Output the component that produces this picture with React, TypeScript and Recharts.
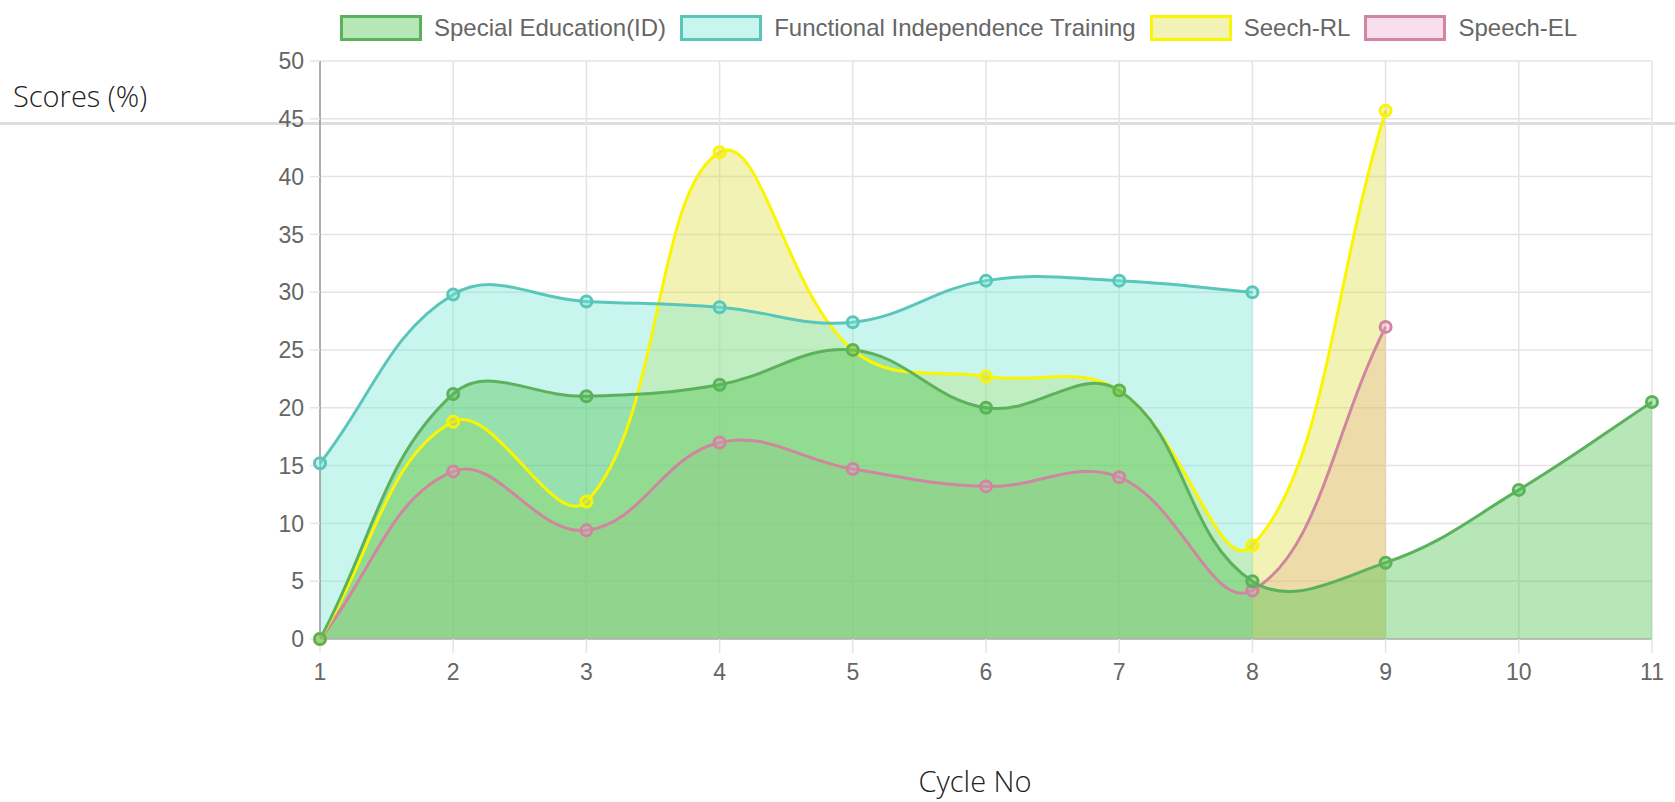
import { ComposedChart, Area, Line, XAxis, YAxis, CartesianGrid } from "recharts"

const cycles = [1, 2, 3, 4, 5, 6, 7, 8, 9, 10, 11]
const specialEd = [0, 21.2, 21.0, 22.0, 25.0, 20.0, 21.5, 5.0, 6.6, 12.9, 20.5]
const independence = [15.2, 29.8, 29.2, 28.7, 27.4, 31.0, 31.0, 30.0, null, null, null]
const speechRL = [0, 18.8, 11.9, 42.1, 25.0, 22.7, 21.5, 8.1, 45.7, null, null]
const speechEL = [0, 14.5, 9.4, 17.0, 14.7, 13.2, 14.0, 4.2, 27.0, null, null]
const yTicks = [0, 5, 10, 15, 20, 25, 30, 35, 40, 45, 50]

const SERIES = [
  { key: "specialEd", name: "Special Education(ID)", stroke: "rgb(92,178,92)", fill: "rgba(76,195,76,0.4)" },
  { key: "independence", name: "Functional Independence Training", stroke: "rgb(90,198,186)", fill: "rgba(120,230,215,0.4)" },
  { key: "speechRL", name: "Seech-RL", stroke: "rgb(250,245,0)", fill: "rgba(218,218,50,0.36)" },
  { key: "speechEL", name: "Speech-EL", stroke: "rgb(208,134,160)", fill: "rgba(232,150,200,0.32)" },
]

const rows = cycles.map((c, i) => ({
  cycle: c,
  specialEd: specialEd[i],
  independence: independence[i],
  speechRL: speechRL[i],
  speechEL: speechEL[i],
}))

// chart.js style spline (tension 0.4)
function splineCurve(context: any) {
  let pts: number[][] = []
  let line = NaN
  const t = 0.4
  return {
    areaStart() { line = 0 },
    areaEnd() { line = NaN },
    lineStart() { pts = [] },
    point(x: number, y: number) { pts.push([+x, +y]) },
    lineEnd() {
      const n = pts.length
      if (n) {
        if (line) context.lineTo(pts[0][0], pts[0][1])
        else context.moveTo(pts[0][0], pts[0][1])
        const cps = pts.map((cur, i) => {
          const prev = pts[i - 1] || cur
          const next = pts[i + 1] || cur
          const d01 = Math.hypot(cur[0] - prev[0], cur[1] - prev[1])
          const d12 = Math.hypot(next[0] - cur[0], next[1] - cur[1])
          let s01 = d01 / (d01 + d12)
          let s12 = d12 / (d01 + d12)
          if (isNaN(s01)) s01 = 0
          if (isNaN(s12)) s12 = 0
          const fa = t * s01
          const fb = t * s12
          return {
            p: [cur[0] - fa * (next[0] - prev[0]), cur[1] - fa * (next[1] - prev[1])],
            n: [cur[0] + fb * (next[0] - prev[0]), cur[1] + fb * (next[1] - prev[1])],
          }
        })
        for (let i = 0; i < n - 1; i++) {
          const a = cps[i].n
          const b = cps[i + 1].p
          context.bezierCurveTo(a[0], a[1], b[0], b[1], pts[i + 1][0], pts[i + 1][1])
        }
      }
      if (line || (line !== 0 && n === 1)) context.closePath()
      line = 1 - line
    },
  }
}

const tickStyle = { fontFamily: "'Liberation Sans', Arial, sans-serif", fontSize: 23, fill: "#666" }

export default function App() {
  // fills first, lines on top (like chart.js 2)
  const drawOrder = [...SERIES].reverse()
  return (
    <div style={{ position: "absolute", left: 0, top: 0, width: 1675, height: 802, background: "#fff", overflow: "hidden" }}>
      <div style={{ position: "absolute", left: 0, top: 122, width: 1675, height: 3, background: "#dedede" }} />
      <div
        style={{
          position: "absolute",
          left: 340,
          top: 14,
          display: "flex",
          alignItems: "center",
          fontFamily: "'Liberation Sans', Arial, sans-serif",
          fontSize: 24,
          color: "#666",
          whiteSpace: "nowrap",
        }}
      >
        {SERIES.map((s) => (
          <div key={s.key} style={{ display: "flex", alignItems: "center", marginRight: 14 }}>
            <div
              style={{
                width: 82,
                height: 26,
                boxSizing: "border-box",
                border: `3px solid ${s.stroke}`,
                background: s.fill,
                marginRight: 12,
              }}
            />
            <span>{s.name}</span>
          </div>
        ))}
      </div>
      <div
        style={{
          position: "absolute",
          left: 13,
          top: 77,
          fontFamily: "'Open Sans', sans-serif",
          fontWeight: 300,
          fontSize: 29,
          lineHeight: "38px",
          color: "#222",
        }}
      >
        Scores (%)
      </div>
      <div
        style={{
          position: "absolute",
          left: 975,
          top: 762,
          transform: "translateX(-50%)",
          fontFamily: "'Open Sans', sans-serif",
          fontWeight: 300,
          fontSize: 29,
          lineHeight: "38px",
          color: "#222",
          whiteSpace: "nowrap",
        }}
      >
        Cycle No
      </div>
      <div style={{ position: "absolute", left: 0, top: 0 }}>
        <ComposedChart width={1675} height={802} data={rows} margin={{ top: 61, right: 23, bottom: 123, left: 260 }}>
          <CartesianGrid stroke="#e4e4e4" strokeWidth={1.5} />
          <XAxis
            dataKey="cycle"
            type="number"
            domain={[1, 11]}
            ticks={cycles}
            height={40}
            tick={tickStyle}
            tickSize={14}
            tickMargin={11}
            tickLine={{ stroke: "#e4e4e4", strokeWidth: 1.5 }}
            axisLine={{ stroke: "#b0b0b0", strokeWidth: 1.5 }}
          />
          <YAxis
            type="number"
            domain={[0, 50]}
            ticks={yTicks}
            width={60}
            tick={tickStyle}
            tickSize={10}
            tickMargin={6}
            tickLine={{ stroke: "#e4e4e4", strokeWidth: 1.5 }}
            axisLine={{ stroke: "#999", strokeWidth: 1.5 }}
          />
          {drawOrder.map((s) => (
            <Area
              key={s.key + "-fill"}
              dataKey={s.key}
              name={s.name}
              type={splineCurve as any}
              stroke="none"
              fill={s.fill}
              fillOpacity={1}
              dot={false}
              activeDot={false}
              legendType="none"
              isAnimationActive={false}
            />
          ))}
          {drawOrder.map((s) => (
            <Line
              key={s.key + "-line"}
              dataKey={s.key}
              name={s.name}
              type={splineCurve as any}
              stroke={s.stroke}
              strokeWidth={3}
              dot={{ r: 5.5, stroke: s.stroke, strokeWidth: 3, fill: s.fill }}
              activeDot={false}
              isAnimationActive={false}
            />
          ))}
        </ComposedChart>
      </div>
    </div>
  )
}
